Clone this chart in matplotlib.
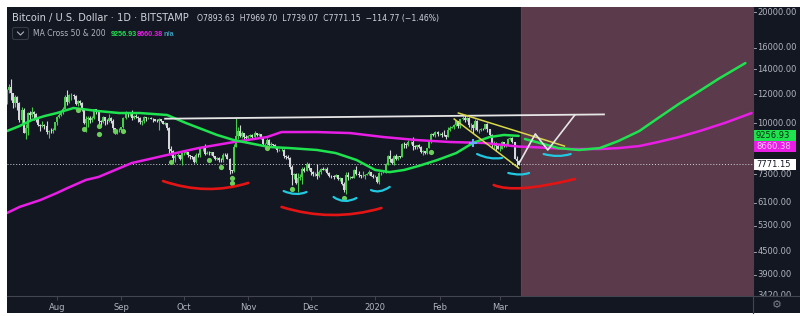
import matplotlib
matplotlib.use("Agg")
import matplotlib.pyplot as plt
import matplotlib.dates as mdates
from matplotlib.path import Path
from matplotlib.patches import PathPatch, Rectangle, FancyBboxPatch
import pandas as pd

# ---- daily candles, 2019-07-08 .. 2020-03-10 (open = previous close) ----
start_day = "2019-07-08"
first_open = 11450
closes = [
    # Jul
    12300, 12550, 12100, 11350, 11800, 11380, 10200, 10850, 9450, 9700, 10650, 10550,
    10750, 10600, 10340, 9900, 9830, 9900, 9850, 9480, 9550, 9520, 9590, 10080,
    # Aug
    10400, 10530, 10820, 10970, 11800, 11460, 11950, 11950, 11850, 11280, 11530, 11370,
    10850, 10020, 10300, 10350, 10220, 10320, 10920, 10760, 10130, 10110, 10400, 10140,
    10130, 10370, 10180, 9720, 9490, 9580, 9600,
    # Sep
    9760, 10370, 10620, 10580, 10580, 10320, 10480, 10400, 10330, 10100, 10150, 10410,
    10360, 10360, 10310, 10260, 10180, 10160, 10270, 10170, 9990, 10040, 9700, 8530,
    8430, 8060, 8190, 8200, 8040, 8300,
    # Oct
    8330, 8390, 8230, 8150, 8140, 7860, 8210, 8200, 8590, 8590, 8270, 8330,
    8300, 8370, 8160, 8000, 8080, 7960, 7950, 8240, 8230, 8020, 7470, 7430,
    8660, 9250, 9550, 9250, 9430, 9180, 9150,
    # Nov
    9250, 9310, 9200, 9410, 9310, 9350, 9200, 8780, 8810, 9040, 8720, 8820,
    8760, 8640, 8460, 8490, 8500, 8180, 8120, 8080, 7620, 7280, 7320, 6900,
    7130, 7160, 7530, 7440, 7770, 7560,
    # Dec
    7400, 7300, 7300, 7200, 7390, 7530, 7500, 7530, 7340, 7220, 7200, 7190,
    7250, 7070, 7110, 6880, 6610, 7280, 7150, 7190, 7140, 7510, 7320, 7250,
    7200, 7200, 7250, 7300, 7390, 7220, 7170,
    # Jan
    7180, 6950, 7340, 7350, 7360, 7760, 8150, 8040, 7820, 8190, 8020, 8180,
    8110, 8820, 8810, 8720, 8900, 8910, 8700, 8630, 8740, 8660, 8390, 8430,
    8330, 8590, 8900, 9380, 9290, 9500, 9340,
    # Feb
    9380, 9330, 9290, 9180, 9620, 9750, 9800, 9900, 10150, 9850, 10270, 10350,
    10230, 10360, 9900, 9930, 9700, 10180, 9600, 9610, 9690, 9670, 9970, 9660,
    9310, 8790, 8800, 8700, 8540,
    # Mar
    8540, 8900, 8750, 8760, 9080, 9150, 8900, 8030, 7893.63, 7771.15,
]
highs = [
    12400, 12800, 13200, 12100, 11900, 11850, 11450, 11100, 11000, 9990, 10750, 10800,
    11100, 10800, 10680, 10350, 9950, 10150, 9950, 10180, 9600, 9700, 9730, 10120,
    10500, 10650, 10900, 11050, 11900, 12300, 12000, 12050, 12020, 11900, 11580, 11550,
    11450, 10850, 10450, 10500, 10470, 10450, 10950, 10950, 10780, 10230, 10450, 10420,
    10300, 10620, 10390, 10250, 9730, 9670, 9700,
    9800, 10420, 10780, 10650, 10640, 10900, 10540, 10580, 10460, 10380, 10220, 10450,
    10440, 10420, 10380, 10350, 10280, 10280, 10330, 10290, 10180, 10090, 10050, 9800,
    8700, 8460, 8250, 8300, 8220, 8340,
    8500, 8400, 8400, 8220, 8180, 8160, 8300, 8320, 8650, 8650, 8800, 8420,
    8440, 8400, 8390, 8180, 8120, 8110, 8090, 8300, 8330, 8300, 8050, 7500,
    8800, 10370, 9800, 9900, 9550, 9440, 9300,
    9300, 9380, 9360, 9520, 9450, 9440, 9360, 9220, 8870, 9120, 9060, 8900,
    8820, 8780, 8660, 8550, 8600, 8520, 8200, 8200, 8120, 7700, 7370, 7330,
    7330, 7310, 7650, 7640, 7860, 7820,
    7570, 7420, 7410, 7760, 7490, 7570, 7610, 7580, 7630, 7390, 7270, 7250,
    7300, 7260, 7170, 7140, 6940, 7400, 7380, 7220, 7200, 7520, 7680, 7430,
    7280, 7420, 7290, 7370, 7510, 7400, 7310,
    7250, 7200, 7400, 7380, 7500, 7800, 8200, 8460, 8050, 8200, 8280, 8190,
    8190, 8880, 8900, 8830, 9000, 8980, 9180, 8720, 8770, 8780, 8670, 8500,
    8440, 8600, 8980, 9400, 9420, 9560, 9520,
    9440, 9470, 9600, 9300, 9760, 9850, 9870, 9940, 10160, 10150, 10300, 10460,
    10520, 10390, 10380, 10060, 9960, 10250, 10200, 9670, 9750, 9700, 9990, 10000,
    9680, 9370, 8980, 8900, 8800,
    8720, 8950, 8920, 8840, 9160, 9180, 9200, 8910, 8180, 7969.70,
]
lows = [
    11300, 12100, 11600, 11000, 11100, 10900, 10100, 9900, 9400, 9100, 9300, 10150,
    10400, 10200, 10100, 9820, 9550, 9760, 9650, 9350, 9150, 9400, 9400, 9580,
    9900, 10350, 10500, 10600, 10950, 11250, 11350, 11550, 11650, 11200, 11150, 11250,
    10780, 9950, 9500, 9800, 10050, 10120, 10250, 10600, 9900, 9780, 10050, 9900,
    9950, 10120, 10050, 9630, 9340, 9380, 9470,
    9550, 9750, 10300, 10400, 10450, 10200, 10310, 10330, 10100, 9950, 9900, 10050,
    10180, 10250, 10260, 10100, 10130, 10080, 9620, 10100, 9950, 9900, 9620, 8250,
    8230, 7800, 7880, 8100, 7950, 7740,
    8200, 8250, 8100, 8000, 8030, 7800, 7800, 8140, 8140, 8450, 8230, 8250,
    8200, 8240, 8100, 7950, 7950, 7880, 7880, 7880, 8160, 8010, 7300, 7370,
    7400, 8650, 9100, 9200, 9150, 9050, 8950,
    9050, 9220, 9120, 9130, 9250, 9250, 9100, 8700, 8750, 8760, 8640, 8700,
    8700, 8580, 8400, 8440, 8420, 8060, 8000, 8030, 7520, 6800, 7100, 6860,
    6530, 7050, 6870, 7390, 7420, 7500,
    7250, 7200, 7220, 7100, 7170, 7300, 7480, 7420, 7310, 7170, 7130, 7080,
    7180, 7030, 7010, 6840, 6550, 6430, 7040, 7100, 7120, 7130, 7260, 7170,
    7130, 7160, 7100, 7260, 7280, 7200, 7140,
    7150, 6900, 6860, 7270, 7330, 7350, 7720, 7880, 7760, 7700, 7970, 7980,
    8060, 8100, 8580, 8600, 8680, 8800, 8480, 8520, 8540, 8610, 8300, 8240,
    8280, 8290, 8580, 8880, 9240, 9220, 9230,
    9310, 9200, 9230, 9100, 9170, 9540, 9720, 9680, 9860, 9730, 9730, 10240,
    10090, 10130, 9800, 9620, 9450, 9600, 9550, 9400, 9560, 9580, 9650, 9500,
    9260, 8600, 8550, 8450, 8530,
    8420, 8520, 8660, 8660, 8750, 9000, 8880, 8000, 7650, 7739.07,
]

# ---- moving averages and the drawn projections ----
ma50_dates = ["2019-07-08", "2019-07-14", "2019-07-20", "2019-07-26", "2019-08-01",
              "2019-08-09", "2019-08-13", "2019-08-21", "2019-08-31", "2019-09-10",
              "2019-09-23", "2019-10-02", "2019-10-17", "2019-10-25", "2019-11-01",
              "2019-11-11", "2019-11-21", "2019-12-04", "2019-12-13", "2019-12-23",
              "2020-01-01", "2020-01-08", "2020-01-15", "2020-01-22", "2020-01-31",
              "2020-02-09", "2020-02-17", "2020-02-25", "2020-03-03", "2020-03-10"]
ma50_vals = [9540, 9840, 10220, 10470, 10670, 11010, 10940, 10800, 10670, 10670,
             10540, 10030, 9310, 9020, 8860, 8640, 8580, 8480, 8320, 7970,
             7490, 7390, 7490, 7680, 7970, 8320, 8860, 9190, 9310, 9256.93]
ma50_proj_dates = ["2020-03-13", "2020-03-20", "2020-03-29", "2020-04-08", "2020-04-18",
                   "2020-04-27", "2020-05-07", "2020-05-16", "2020-05-26", "2020-06-05",
                   "2020-06-14", "2020-06-27"]
ma50_proj_vals = [9080, 8860, 8580, 8480, 8580, 8970, 9540, 10340, 11290, 12240, 13190, 14560]

ma200_dates = ["2019-07-08", "2019-07-14", "2019-07-24", "2019-08-01", "2019-08-06",
               "2019-08-15", "2019-08-21", "2019-09-06", "2019-09-23", "2019-10-08",
               "2019-10-25", "2019-11-10", "2019-11-17", "2019-12-04", "2019-12-20",
               "2020-01-05", "2020-01-21", "2020-02-06", "2020-02-22", "2020-03-10",
               "2020-03-15", "2020-04-04", "2020-04-18", "2020-04-27", "2020-05-07",
               "2020-05-16", "2020-05-26", "2020-06-05", "2020-06-17", "2020-06-30"]
ma200_vals = [5730, 5950, 6210, 6490, 6690, 7040, 7170, 7820, 8220, 8580,
              8910, 9190, 9480, 9480, 9420, 9190, 9020, 8910, 8860, 8660.38,
              8640, 8530, 8530, 8580, 8690, 8910, 9190, 9540, 10030, 10670]

# ---- hand drawn annotations ----
neckline_dates = ["2019-09-22", "2020-04-20"]
neckline_vals = [10300, 10580]
wedge_top_dates = ["2020-02-10", "2020-04-01"]
wedge_top_vals = [10670, 8690]
wedge_bot_dates = ["2020-02-08", "2020-03-10"]
wedge_bot_vals = [10280, 7580]
path_dates = ["2020-03-10", "2020-03-18", "2020-03-24", "2020-04-06"]
path_vals = [7771, 9370, 8480, 10540]

# curves: start, control point, end
red_curves = [
    (["2019-09-21", "2019-10-12", "2019-11-01"], [6990, 6370, 6910]),
    (["2019-11-17", "2019-12-11", "2020-01-04"], [5950, 5400, 5910]),
    (["2020-02-27", "2020-03-08", "2020-04-06"], [6820, 6450, 7080]),
]
cyan_curves = [
    (["2019-11-18", "2019-11-24", "2019-11-29"], [6570, 6350, 6530]),
    (["2019-12-12", "2019-12-17", "2019-12-23"], [6330, 6040, 6290]),
    (["2019-12-30", "2020-01-03", "2020-01-08"], [6610, 6450, 6740]),
    (["2020-02-19", "2020-02-25", "2020-03-02"], [8270, 7970, 8070]),
    (["2020-03-05", "2020-03-11", "2020-03-15"], [7350, 7210, 7350]),
    (["2020-03-22", "2020-03-29", "2020-04-04"], [8270, 8070, 8270]),
]

dot_dates = ["2019-08-11", "2019-08-14", "2019-08-21", "2019-08-21", "2019-08-29",
             "2019-09-02", "2019-09-25", "2019-10-13", "2019-10-19", "2019-10-24",
             "2019-10-24", "2019-11-10", "2019-11-22", "2019-12-17", "2020-01-28"]
dot_vals = [10870, 9660, 9840, 9370, 9540, 9540, 7870, 7970, 7630, 7120,
            6910, 8580, 6650, 6290, 8370]
cross_date = "2020-02-17"
cross_val = 8860

shade_start = "2020-03-11"
price_ticks = [20000, 16000, 14000, 12000, 10000, 7300, 6100, 5300, 4500, 3900, 3420]
month_ticks = ["2019-08-01", "2019-09-01", "2019-10-01", "2019-11-01", "2019-12-01",
               "2020-01-01", "2020-02-01", "2020-03-01"]
month_labels = ["Aug", "Sep", "Oct", "Nov", "Dec", "2020", "Feb", "Mar"]

# ---- colours ----
BG = "#131722"
UP = "#45cc4a"
DOWN = "#d4d6da"
GREEN = "#1ee34f"
PINK = "#e81ee6"
TXT = "#b2b5be"
LINE = "#434651"


def dn(ds):
    return mdates.date2num(pd.to_datetime(ds))


dates = pd.date_range(start_day, periods=len(closes), freq="D")
xs = mdates.date2num(dates)
opens = [first_open] + closes[:-1]

fig = plt.figure(figsize=(8, 3.16), dpi=100, facecolor="white")

# pixel-space background
bg = fig.add_axes([0, 0, 1, 1], zorder=0)
bg.set_xlim(0, 800)
bg.set_ylim(316, 0)
bg.axis("off")
bg.add_patch(Rectangle((7, 7), 793, 306, color=BG, lw=0))

ax = fig.add_axes([7 / 800, 20 / 316, 746 / 800, 289 / 316], zorder=1)
ax.set_facecolor("none")
ax.set_yscale("log")
x0 = dn(start_day)
ax.set_xlim(x0, x0 + 746 / 2.08)
ax.set_ylim(3420, 20632)
for s in ax.spines.values():
    s.set_visible(False)
ax.yaxis.set_visible(False)
ax.minorticks_off()
ax.set_xticks(dn(month_ticks))
ax.set_xticklabels(month_labels)
ax.tick_params(axis="x", colors=LINE, labelcolor=TXT, labelsize=6, length=3, width=0.7, pad=2)

ax.axvspan(dn(shade_start), x0 + 746 / 2.08, color="#5b3a4b", lw=0, zorder=0.5)
ax.axvline(dn(shade_start), color="#8a2f40", lw=0.8, zorder=0.6)

# candles
cols = [UP if c >= o else DOWN for o, c in zip(opens, closes)]
ax.vlines(xs, lows, highs, colors=cols, lw=0.8, zorder=2)
ax.bar(xs, [max(abs(c - o), 12) for o, c in zip(opens, closes)],
       bottom=[min(o, c) for o, c in zip(opens, closes)],
       width=0.95, color=cols, lw=0, zorder=2)

ax.axhline(closes[-1], color="#d1d4dc", lw=0.7, ls=(0, (1, 2)), zorder=1.5)

# moving averages
ax.plot(dn(ma200_dates), ma200_vals, color=PINK, lw=1.8, zorder=3, solid_capstyle="round")
ax.plot(dn(ma50_dates), ma50_vals, color=GREEN, lw=1.8, zorder=3.1, solid_capstyle="round")
ax.plot(dn(ma50_proj_dates), ma50_proj_vals, color=GREEN, lw=1.8, zorder=3.1, solid_capstyle="round")

ax.scatter(dn(dot_dates), dot_vals, s=14, color="#6ad05a", zorder=3.5, lw=0)
ax.scatter([dn(cross_date)], [cross_val], s=30, marker="+", color="#6aa8ff", zorder=4, lw=1.5)

# drawings
ax.plot(dn(neckline_dates), neckline_vals, color="#e6e6e6", lw=1.3, zorder=4)
ax.plot(dn(wedge_top_dates), wedge_top_vals, color="#d8d84a", lw=1.1, zorder=4)
ax.plot(dn(wedge_bot_dates), wedge_bot_vals, color="#d8d84a", lw=1.1, zorder=4)
ax.plot(dn(path_dates), path_vals, color="#e6e6e6", lw=1.2, zorder=4)

for curves, colour, width in [(red_curves, "#e21414", 1.9), (cyan_curves, "#22c8e0", 1.6)]:
    for ds, vs in curves:
        verts = list(zip(dn(ds), vs))
        p = Path(verts, [Path.MOVETO, Path.CURVE3, Path.CURVE3])
        ax.add_patch(PathPatch(p, fill=False, ec=colour, lw=width, zorder=4.5, capstyle="round"))

# right price scale
ar = fig.add_axes([753 / 800, 20 / 316, 47 / 800, 289 / 316], zorder=2)
ar.set_yscale("log")
ar.set_ylim(3420, 20632)
ar.set_xlim(0, 47)
ar.axis("off")
for p in price_ticks:
    ar.plot([0, 3], [p, p], color=TXT, lw=0.6, clip_on=True)
    ar.text(4.5, p, f"{p:.2f}", color=TXT, fontsize=6, va="center", ha="left", clip_on=True)

ov = fig.add_axes([0, 0, 1, 1], zorder=5)
ov.set_xlim(0, 800)
ov.set_ylim(316, 0)
ov.axis("off")
ov.plot([7, 800], [296, 296], color=LINE, lw=0.8)
ov.plot([753, 753], [7, 313], color=LINE, lw=0.8)


def py(v):
    return 316 - ax.transData.transform((x0, v))[1]


for v, fc, tc in [(ma50_vals[-1], GREEN, "#0b2a10"), (ma200_vals[19], PINK, "#ffc4fb"),
                  (closes[-1], "#ffffff", "#131722")]:
    y = py(v)
    ov.add_patch(Rectangle((753, y - 5.5), 43, 11, color=fc, lw=0))
    ov.text(756, y, f"{v:.2f}", color=tc, fontsize=6, va="center", ha="left")

# header
ov.text(12, 18, "Bitcoin / U.S. Dollar \u00b7 1D \u00b7 BITSTAMP", color="#d1d4dc",
        fontsize=7.1, va="center", ha="left")
ov.text(197, 18, "O7893.63  H7969.70  L7739.07  C7771.15  \u2212114.77 (\u22121.46%)",
        color="#d1d4dc", fontsize=5.6, va="center", ha="left")
ov.add_patch(FancyBboxPatch((12.5, 27.5), 16, 12, boxstyle="round,pad=0,rounding_size=2",
                            fc=BG, ec="#363a45", lw=0.8))
ov.plot([17.5, 20.5, 23.5], [32, 35, 32], color="#b2b5be", lw=0.8)
ov.text(33, 34, "MA Cross 50 & 200", color="#b2b5be", fontsize=5.5, va="center", ha="left")
ov.text(111, 34, f"{ma50_vals[-1]:.2f}", color=GREEN, fontsize=5.2, va="center", ha="left",
        family="Liberation Sans", weight="bold")
ov.text(137, 34, f"{ma200_vals[19]:.2f}", color=PINK, fontsize=5.2, va="center", ha="left",
        family="Liberation Sans", weight="bold")
ov.text(163, 34, "n/a", color="#3a9bb5", fontsize=5.2, va="center", ha="left",
        family="Liberation Sans", weight="bold")
ov.text(777, 305, "\u2699", color="#787b86", fontsize=8, va="center", ha="center")

fig.savefig("out.png", dpi=100, facecolor="white")
